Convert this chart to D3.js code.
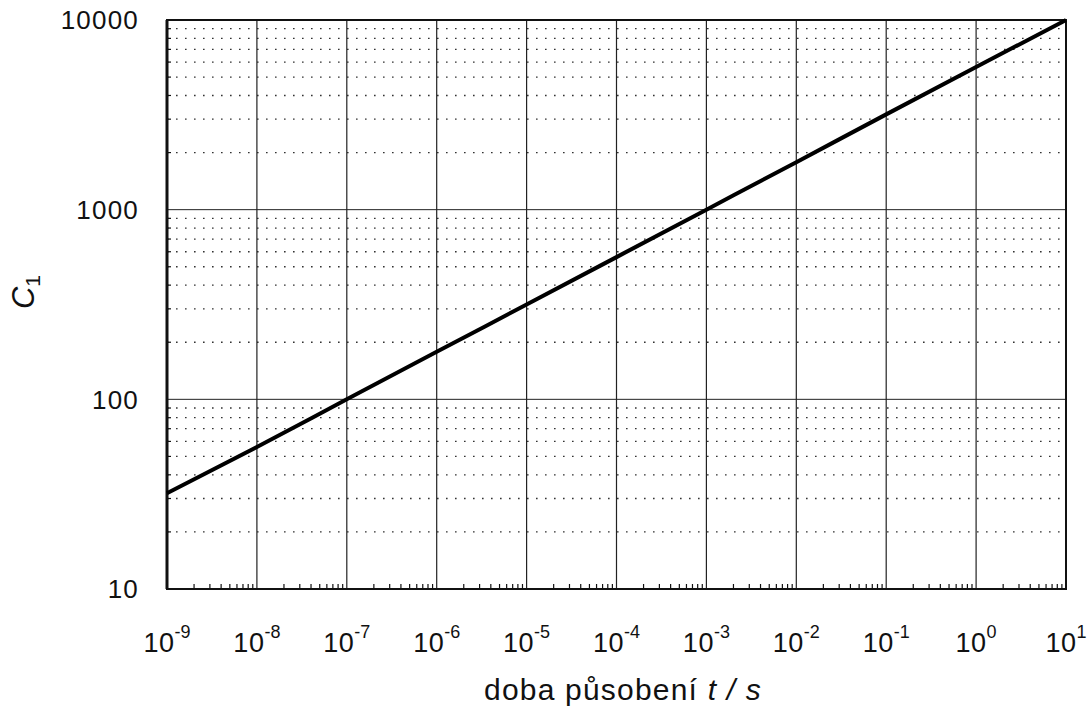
<!DOCTYPE html>
<html>
<head>
<meta charset="utf-8">
<script src="https://cdn.jsdelivr.net/npm/d3@7"></script>
<style>
  body { margin: 0; background: #fff; }
  text { font-family: "Liberation Sans", Arial, sans-serif; fill: #111; }
</style>
</head>
<body>
<svg id="chart" width="1088" height="709"></svg>
<script>
// values: time t (s) and C1
let times = [1e-9, 1e-8, 1e-7, 1e-6, 1e-5, 1e-4, 1e-3, 1e-2, 1e-1, 1e0, 1e1],
    c1 = [32, 56, 100, 178, 316, 562, 1000, 1780, 3180, 5650, 10000];

let xDecades = [-9, -8, -7, -6, -5, -4, -3, -2, -1, 0, 1],
    yTicks = [10, 100, 1000, 10000],
    minorMult = [2, 3, 4, 5, 6, 7, 8, 9];

let svg = d3.select('#chart');

let pLeft = 167, pRight = 1066, pTop = 20, pBottom = 589;

let x = d3.scaleLog().domain([1e-9, 1e1]).range([pLeft, pRight]),
    y = d3.scaleLog().domain([10, 10000]).range([pBottom, pTop]);

// minor y values (2..9 in each decade) -> dotted lines
let yMinor = [];
yTicks.slice(0, -1).forEach(function(d) {
    minorMult.forEach(function(m) { yMinor.push(d * m); });
});
let xMinor = [];
xDecades.slice(0, -1).forEach(function(e) {
    minorMult.forEach(function(m) { xMinor.push(m * Math.pow(10, e)); });
});

let grid = svg.append('g').attr('class', 'grid');

grid.selectAll('line.hminor')
    .data(yMinor).enter().append('line')
    .attr('class', 'hminor')
    .attr('x1', pLeft).attr('x2', pRight)
    .attr('y1', d => y(d)).attr('y2', d => y(d))
    .attr('stroke', '#333')
    .attr('stroke-width', 1.3)
    .attr('stroke-dasharray', '1.6,7.4');

grid.selectAll('line.hmajor')
    .data(yTicks.slice(1, -1)).enter().append('line')
    .attr('class', 'hmajor')
    .attr('x1', pLeft).attr('x2', pRight)
    .attr('y1', d => y(d)).attr('y2', d => y(d))
    .attr('stroke', '#222')
    .attr('stroke-width', 1);

grid.selectAll('line.vmajor')
    .data(xDecades.slice(1, -1)).enter().append('line')
    .attr('class', 'vmajor')
    .attr('x1', d => x(Math.pow(10, d))).attr('x2', d => x(Math.pow(10, d)))
    .attr('y1', pTop).attr('y2', pBottom)
    .attr('stroke', '#222')
    .attr('stroke-width', 1.2);

// minor ticks, bottom (x) and left (y)
grid.selectAll('line.xminor')
    .data(xMinor).enter().append('line')
    .attr('class', 'xminor')
    .attr('x1', d => x(d)).attr('x2', d => x(d))
    .attr('y1', pBottom).attr('y2', pBottom - 5)
    .attr('stroke', '#111')
    .attr('stroke-width', 1.2);

grid.selectAll('line.yminor')
    .data(yMinor).enter().append('line')
    .attr('class', 'yminor')
    .attr('x1', pLeft).attr('x2', pLeft + 4)
    .attr('y1', d => y(d)).attr('y2', d => y(d))
    .attr('stroke', '#111')
    .attr('stroke-width', 1.2);

// frame
svg.append('rect')
    .attr('x', pLeft).attr('y', pTop)
    .attr('width', pRight - pLeft).attr('height', pBottom - pTop)
    .attr('fill', 'none')
    .attr('stroke', '#111')
    .attr('stroke-width', 2);
svg.append('line')
    .attr('x1', pLeft).attr('x2', pLeft)
    .attr('y1', pTop).attr('y2', pBottom)
    .attr('stroke', '#111')
    .attr('stroke-width', 3);

// the curve
let lineFunc = d3.line()
    .x(function(d, i) { return x(times[i]); })
    .y(function(d) { return y(d); })
    .curve(d3.curveMonotoneX);

svg.append('path')
    .datum(c1)
    .attr('d', lineFunc)
    .attr('fill', 'none')
    .attr('stroke', '#000')
    .attr('stroke-width', 4)
    .attr('stroke-linejoin', 'round');

// x tick labels 10^n
let xl = svg.append('g').attr('class', 'xlabels');
xl.selectAll('text')
    .data(xDecades).enter().append('text')
    .attr('x', d => x(Math.pow(10, d)))
    .attr('y', 652)
    .attr('text-anchor', 'middle')
    .each(function(d) {
        let t = d3.select(this);
        t.append('tspan').attr('font-size', 27).attr('letter-spacing', 0.5).text('10');
        t.append('tspan').attr('font-size', 18).attr('dy', -14).text(d);
    });

// y tick labels
svg.append('g').attr('class', 'ylabels')
    .selectAll('text')
    .data(yTicks).enter().append('text')
    .attr('x', 139)
    .attr('y', d => y(d))
    .attr('dy', '0.36em')
    .attr('text-anchor', 'end')
    .attr('font-size', 26)
    .attr('letter-spacing', 1.2)
    .text(d => d);

// axis titles
let xt = svg.append('text')
    .attr('x', 623)
    .attr('y', 700)
    .attr('text-anchor', 'middle')
    .attr('font-size', 30)
    .attr('letter-spacing', 1.2);
xt.append('tspan').text('doba působení ');
xt.append('tspan').attr('font-style', 'italic').text('t / s');

let yt = svg.append('text')
    .attr('transform', 'translate(34,292) rotate(-90)')
    .attr('text-anchor', 'middle')
    .attr('font-size', 31);
yt.append('tspan').attr('font-style', 'italic').text('C');
yt.append('tspan').attr('font-size', 21).attr('dy', 6).text('1');
</script>
</body>
</html>
